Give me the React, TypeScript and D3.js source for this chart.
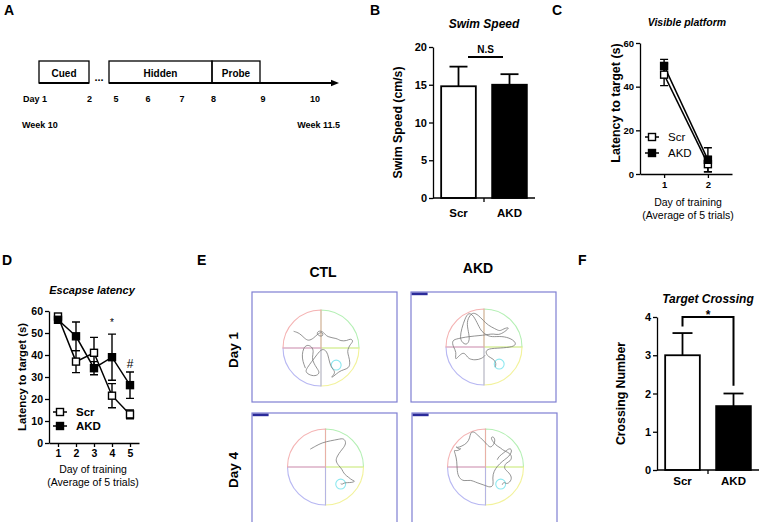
import React, { useRef, useEffect } from 'react';
import * as d3 from 'd3';

const FONT = "'Liberation Sans', Arial, sans-serif";

// A: protocol timeline
const phases = ['Cued', 'Hidden', 'Probe'];
const timelineDays = ['Day 1', '2', '5', '6', '7', '8', '9', '10'];
const weeks = ['Week 10', 'Week 11.5'];

// B: swim speed
const groups = ['Scr', 'AKD'];
const swimMean = [14.8, 15.0];
const swimSem = [2.6, 1.4];
const swimTicks = [0, 5, 10, 15, 20];

// C: visible platform
const visDays = [1, 2];
const visScr = [45.5, 4.5];
const visScrSem = [5, 3.5];
const visAkd = [49.5, 6.5];
const visAkdSem = [3, 5.5];
const visTicks = [0, 20, 40, 60];

// D: escape latency
const escDays = [1, 2, 3, 4, 5];
const escScr = [57.5, 37, 41, 21.5, 13];
const escScrSem = [1.2, 5, 7, 5.5, 2];
const escAkd = [56, 48.5, 34, 39, 26.3];
const escAkdSem = [1, 6.5, 3, 10.5, 6];
const escTicks = [0, 10, 20, 30, 40, 50, 60];
const escSigDays = [4, 5];
const escSigText = ['*', '#'];

// E: swim tracks, pool units (-100..100, y up)
const trackCols = ['CTL', 'AKD'];
const trackRows = ['Day 1', 'Day 4'];
const platform = [40, -45];
const platformR = 13;
const trackCtlDay1 = [
  [-72, 44], [-56, 39], [-44, 26], [-33, 18], [-19, 26], [-11, 35], [3, 44], [7, 31], [-6, 31], [-12, 40],
  [-4, 46], [7, 42], [16, 28], [42, 26], [51, 18], [69, 19], [77, 25], [86, 19], [77, 9], [73, 2],
  [69, -9], [73, -22], [77, -40], [73, -53], [60, -57], [47, -62], [33, -75], [25, -79], [38, -66], [33, -57],
  [25, -48], [20, -26], [16, -9], [3, 0], [-11, -18], [-24, -35], [-37, -53], [-41, -62], [-33, -70], [-15, -75],
  [-2, -66], [-11, -53], [-19, -40], [-24, -26], [-19, -9], [-24, 4], [-37, 9], [-46, 0], [-50, -18], [-48, -35], [-41, -53],
];
const trackAkdDay1 = [
  [29, -53], [33, -44], [25, -31], [11, -26], [3, -13], [11, -4], [42, -3], [77, 0], [86, 9], [73, 22],
  [47, 29], [20, 26], [7, 31], [-6, 40], [-15, 57], [-28, 84], [-41, 91], [-50, 75], [-59, 48], [-63, 26],
  [-59, 13], [-46, 4], [-37, 18], [-41, 40], [-46, 66], [-37, 84], [-28, 91], [-15, 84], [-2, 70], [11, 57],
  [29, 48], [42, 41], [51, 48], [69, 53], [55, 40], [38, 31], [25, 35], [11, 33], [-2, 31], [-24, 29],
  [-50, 26], [-68, 22], [-85, 18], [-81, 0], [-72, -13], [-77, -35], [-68, -26], [-55, -13], [-46, -22], [-41, -31],
  [-24, -35], [-6, -31], [3, -22],
];
const trackCtlDay4 = [
  [-40, 47], [-26, 55], [-9, 64], [13, 69], [35, 73], [48, 76], [55, 64], [48, 51], [40, 42], [31, 29],
  [26, 16], [35, 3], [44, -6], [48, -18], [62, -28], [70, -35], [79, -37], [70, -41], [57, -41], [48, -42],
  [44, -46], [40, -44],
];
const trackAkdDay4 = [
  [44, -47], [48, -38], [57, -47], [70, -33], [66, -20], [57, -11], [48, -3], [53, 11], [66, 15], [70, 28],
  [62, 37], [53, 41], [44, 46], [40, 50], [31, 55], [22, 63], [13, 77], [20, 81], [26, 72], [22, 59],
  [13, 50], [4, 59], [-4, 68], [-13, 77], [-22, 85], [-31, 94], [-40, 90], [-41, 77], [-48, 63], [-62, 55],
  [-75, 50], [-79, 55], [-70, 46], [-62, 50], [-75, 41], [-84, 46], [-79, 33], [-75, 15], [-75, -11], [-70, -29],
  [-57, -38], [-40, -33], [-22, -42], [-4, -47], [13, -55], [22, -47], [18, -29], [22, -11], [31, 2], [44, 15],
  [57, 24], [66, 33], [70, 46], [62, 50], [48, 37], [35, 28], [31, 19],
];
const tracks = [trackCtlDay1, trackAkdDay1, trackCtlDay4, trackAkdDay4];

// F: target crossing
const crossMean = [3.0, 1.67];
const crossSem = [0.58, 0.33];
const crossTicks = [0, 1, 2, 3, 4];

type Sel = d3.Selection<any, unknown, null, undefined>;

const text = (g: Sel, x: number, y: number, s: string, size: number, opts: any = {}) =>
  g.append('text')
    .attr('x', x)
    .attr('y', y)
    .attr('text-anchor', opts.anchor || 'middle')
    .attr('transform', opts.rotate ? `rotate(-90,${x},${y})` : null)
    .style('font-family', FONT)
    .style('font-size', `${size}px`)
    .style('font-weight', opts.weight || 'bold')
    .style('font-style', opts.italic ? 'italic' : 'normal')
    .style('fill', '#000')
    .text(s);

const styleAxis = (ax: Sel, size: number) => {
  ax.selectAll('path, line').attr('stroke', '#000').attr('stroke-width', 1.3);
  ax.selectAll('text')
    .style('font-family', FONT)
    .style('font-size', `${size}px`)
    .style('font-weight', 'bold')
    .attr('fill', '#000');
};

const App = () => {
  const svgRef = useRef<SVGSVGElement>(null);

  useEffect(() => {
    const svg = d3.select(svgRef.current);
    svg.selectAll('*').remove();

    // panel letters
    [['A', 4, 15], ['B', 370, 15], ['C', 552, 15], ['D', 2, 265], ['E', 197, 265], ['F', 578, 265]].forEach(([l, x, y]) =>
      text(svg, x as number, y as number, l as string, 14, { anchor: 'start' }));

    // ---------- A ----------
    const a = svg.append('g');
    const phaseX = [[39, 89], [109, 212], [212, 260]];
    phases.forEach((p, i) => {
      a.append('rect')
        .attr('x', phaseX[i][0]).attr('y', 61)
        .attr('width', phaseX[i][1] - phaseX[i][0]).attr('height', 22)
        .attr('fill', 'none').attr('stroke', '#000').attr('stroke-width', 1.3);
      text(a, (phaseX[i][0] + phaseX[i][1]) / 2, 76.5, p, 10);
    });
    a.append('line').attr('x1', 39).attr('x2', 89).attr('y1', 83).attr('y2', 83).attr('stroke', '#000').attr('stroke-width', 2);
    a.append('line').attr('x1', 109).attr('x2', 333).attr('y1', 83).attr('y2', 83).attr('stroke', '#000').attr('stroke-width', 2);
    a.append('path').attr('d', 'M331,79.8 L339,83 L331,86.2 Z').attr('fill', '#000');
    text(a, 99, 81, '...', 11);
    const dayX = [23, 89.5, 116, 148, 182, 213.5, 263, 315];
    timelineDays.forEach((d, i) => text(a, dayX[i], 102, d, 9, { anchor: i === 0 ? 'start' : 'middle' }));
    text(a, 22, 128, weeks[0], 9, { anchor: 'start' });
    text(a, 340, 128, weeks[1], 9, { anchor: 'end' });

    // ---------- bar panels (B, F) ----------
    const barPanel = (cfg: any) => {
      const g = svg.append('g');
      const x = d3.scaleBand().domain(groups).range([cfg.x0, cfg.x1]).paddingInner(0.32).paddingOuter(0.16);
      const y = d3.scaleLinear().domain([0, cfg.max]).range([cfg.y0, cfg.y1]);
      groups.forEach((k, i) => {
        const cx = x(k)! + x.bandwidth() / 2;
        g.append('line')
          .attr('x1', cx).attr('x2', cx)
          .attr('y1', y(cfg.mean[i])).attr('y2', y(cfg.mean[i] + cfg.sem[i]))
          .attr('stroke', '#000').attr('stroke-width', 1.8);
        g.append('line')
          .attr('x1', cx - cfg.cap).attr('x2', cx + cfg.cap)
          .attr('y1', y(cfg.mean[i] + cfg.sem[i])).attr('y2', y(cfg.mean[i] + cfg.sem[i]))
          .attr('stroke', '#000').attr('stroke-width', 1.8);
        g.append('rect')
          .attr('x', x(k)!).attr('y', y(cfg.mean[i]))
          .attr('width', x.bandwidth()).attr('height', cfg.y0 - y(cfg.mean[i]))
          .attr('fill', i === 0 ? '#fff' : '#000')
          .attr('stroke', '#000').attr('stroke-width', 1.8);
        text(g, cx, cfg.labelY, k, 11.5);
      });
      const ax = g.append('g').attr('transform', `translate(${cfg.x0},0)`)
        .call(d3.axisLeft(y).tickValues(cfg.ticks).tickFormat(d3.format('d')).tickSize(4).tickSizeOuter(0).tickPadding(2));
      styleAxis(ax, 11);
      g.append('line').attr('x1', cfg.x0).attr('x2', cfg.x1).attr('y1', cfg.y0).attr('y2', cfg.y0)
        .attr('stroke', '#000').attr('stroke-width', 1.5);
      const mid = (x(groups[0])! + x.bandwidth() + x(groups[1])!) / 2;
      g.append('line').attr('x1', mid).attr('x2', mid).attr('y1', cfg.y0).attr('y2', cfg.y0 + 4)
        .attr('stroke', '#000').attr('stroke-width', 1.3);
      text(g, (cfg.x0 + cfg.x1) / 2, cfg.titleY, cfg.title, 12, { italic: true });
      text(g, cfg.ylabX, (cfg.y0 + cfg.y1) / 2, cfg.ylab, 12.3, { rotate: true });
      return { g, x, y };
    };

    const b = barPanel({
      x0: 433, x1: 535, y0: 198, y1: 47, max: 20, ticks: swimTicks, mean: swimMean, sem: swimSem,
      cap: 9, labelY: 216.5, title: 'Swim Speed', titleY: 28, ylab: 'Swim Speed (cm/s)', ylabX: 401.5,
    });
    b.g.append('line').attr('x1', 468).attr('x2', 503).attr('y1', 57).attr('y2', 57)
      .attr('stroke', '#000').attr('stroke-width', 1.8);
    text(b.g, 485.5, 53, 'N.S', 10);

    const f = barPanel({
      x0: 657, x1: 759, y0: 470, y1: 317, max: 4, ticks: crossTicks, mean: crossMean, sem: crossSem,
      cap: 10, labelY: 485, title: 'Target Crossing', titleY: 303, ylab: 'Crossing Number', ylabX: 624.5,
    });
    const fl = f.x(groups[0])! + f.x.bandwidth() / 2;
    const fr = f.x(groups[1])! + f.x.bandwidth() / 2;
    f.g.append('path')
      .attr('d', `M${fl},${f.y(3.75)} V${f.y(4)} H${fr} V${f.y(2.2)}`)
      .attr('fill', 'none').attr('stroke', '#000').attr('stroke-width', 2);
    text(f.g, (fl + fr) / 2, 319, '*', 12);

    // ---------- line panels (C, D) ----------
    const linePanel = (cfg: any) => {
      const g = svg.append('g');
      const x = d3.scaleLinear().domain(cfg.xDomain).range([cfg.x0, cfg.x1]);
      const y = d3.scaleLinear().domain([0, cfg.max]).range([cfg.y0, cfg.y1]);
      const series = [
        { v: cfg.scr, e: cfg.scrSem, fill: '#fff' },
        { v: cfg.akd, e: cfg.akdSem, fill: '#000' },
      ];
      const line = d3.line<number>().x((_, i) => x(cfg.days[i])).y(d => y(d));
      series.forEach(s => {
        g.append('path').attr('d', line(s.v)!).attr('fill', 'none').attr('stroke', '#000').attr('stroke-width', 1.5);
      });
      series.forEach(s => {
        s.v.forEach((v: number, i: number) => {
          const cx = x(cfg.days[i]);
          g.append('path')
            .attr('d', `M${cx},${y(v - s.e[i])}V${y(v + s.e[i])}M${cx - cfg.cap},${y(v - s.e[i])}h${cfg.cap * 2}M${cx - cfg.cap},${y(v + s.e[i])}h${cfg.cap * 2}`)
            .attr('stroke', '#000').attr('stroke-width', 1.4).attr('fill', 'none');
        });
      });
      series.forEach(s => {
        s.v.forEach((v: number, i: number) => {
          g.append('rect')
            .attr('x', x(cfg.days[i]) - 3.5).attr('y', y(v) - 3.5)
            .attr('width', 7).attr('height', 7)
            .attr('fill', s.fill).attr('stroke', '#000').attr('stroke-width', 1.4);
        });
      });
      const ay = g.append('g').attr('transform', `translate(${cfg.x0},0)`)
        .call(d3.axisLeft(y).tickValues(cfg.ticks).tickSize(4).tickSizeOuter(0).tickPadding(2));
      styleAxis(ay, cfg.tickFont);
      const axx = g.append('g').attr('transform', `translate(0,${cfg.y0})`)
        .call(d3.axisBottom(x).tickValues(cfg.days).tickFormat(d3.format('d')).tickSize(4).tickSizeOuter(0).tickPadding(3));
      styleAxis(axx, cfg.tickFont);
      // legend
      series.forEach((s, i) => {
        const ly = cfg.legY + i * cfg.legStep;
        g.append('line').attr('x1', cfg.legX - 7).attr('x2', cfg.legX + 7).attr('y1', ly).attr('y2', ly)
          .attr('stroke', '#000').attr('stroke-width', 1.5);
        g.append('rect').attr('x', cfg.legX - 3.5).attr('y', ly - 3.5).attr('width', 7).attr('height', 7)
          .attr('fill', s.fill).attr('stroke', '#000').attr('stroke-width', 1.4);
        text(g, cfg.legX + 16, ly + 4, groups[i], 11.5, { anchor: 'start', weight: cfg.legWeight });
      });
      text(g, cfg.titleX, cfg.titleY, cfg.title, cfg.titleFont, { italic: true });
      text(g, cfg.xlabX, cfg.xlabY, 'Day of training', 10.5, { weight: 'normal' });
      text(g, cfg.xlabX, cfg.xlabY + 13, '(Average of 5 trials)', 10.5, { weight: 'normal' });
      text(g, cfg.ylabX, cfg.ylabY, 'Latency to target (s)', cfg.ylabFont, { rotate: true });
      return { g, x, y };
    };

    linePanel({
      x0: 640, x1: 732, y0: 174, y1: 43, max: 60, xDomain: [0.45, 2.55], days: visDays,
      scr: visScr, scrSem: visScrSem, akd: visAkd, akdSem: visAkdSem, ticks: visTicks, cap: 4, tickFont: 9.5,
      legX: 652, legY: 137, legStep: 16, legWeight: 'normal', titleFont: 10.5, ylabFont: 12.5,
      title: 'Visible platform', titleX: 687, titleY: 26, xlabX: 688, xlabY: 206, ylabX: 619.5, ylabY: 103,
    });

    const d = linePanel({
      x0: 49, x1: 139, y0: 443, y1: 311, max: 60, xDomain: [0.5, 5.5], days: escDays,
      scr: escScr, scrSem: escScrSem, akd: escAkd, akdSem: escAkdSem, ticks: escTicks, cap: 4, tickFont: 10.5,
      legX: 60, legY: 412, legStep: 14, legWeight: 'bold', titleFont: 11, ylabFont: 11.3,
      title: 'Escapse latency', titleX: 92, titleY: 294, xlabX: 93, xlabY: 473, ylabX: 26, ylabY: 377,
    });
    escSigDays.forEach((day, i) => {
      const idx = escDays.indexOf(day);
      const top = d.y(escAkd[idx] + escAkdSem[idx]);
      text(d.g, d.x(day), top - (i === 0 ? 8 : 4), escSigText[i], i === 0 ? 10 : 12, { weight: 'normal' });
    });

    // ---------- E ----------
    const e = svg.append('g');
    const colX = [323, 478];
    const colY = [277, 273];
    trackCols.forEach((c, i) => text(e, colX[i], colY[i], c, 14));
    const rowY = [350, 470];
    trackRows.forEach((r, i) => text(e, 238, rowY[i], r, 13.5, { rotate: true }));

    const boxes = [
      { x: 252, y: 292, cx: 321, cy: 348, flag: false },
      { x: 411, y: 292, cx: 484, cy: 347, flag: true },
      { x: 252, y: 413, cx: 325.5, cy: 467, flag: true },
      { x: 412, y: 413, cx: 485.5, cy: 467, flag: true },
    ];
    const quadColors = ['#a6eca6', '#f0f08a', '#aaaaf0', '#f2a5a5'];
    const r = 38;
    boxes.forEach((bx, i) => {
      const g = e.append('g');
      g.append('rect').attr('x', bx.x).attr('y', bx.y).attr('width', 145).attr('height', i < 2 ? 110 : 120)
        .attr('fill', '#fff').attr('stroke', '#7f7fd2').attr('stroke-width', 1.2);
      if (bx.flag) {
        g.append('rect').attr('x', bx.x + 0.6).attr('y', bx.y + 0.6).attr('width', 16).attr('height', 2.6).attr('fill', '#2b2b9a');
      }
      const px = d3.scaleLinear().domain([-100, 100]).range([bx.cx - r, bx.cx + r]);
      const py = d3.scaleLinear().domain([-100, 100]).range([bx.cy + r, bx.cy - r]);
      const arc = d3.arc<any>().innerRadius(0).outerRadius(r);
      quadColors.forEach((col, q) => {
        g.append('path')
          .attr('transform', `translate(${bx.cx},${bx.cy})`)
          .attr('d', arc({ startAngle: (q * Math.PI) / 2, endAngle: ((q + 1) * Math.PI) / 2 })!)
          .attr('fill', 'none').attr('stroke', col).attr('stroke-width', 1.1).attr('stroke-opacity', 0.85);
      });
      g.append('circle').attr('cx', px(platform[0])).attr('cy', py(platform[1])).attr('r', px(platformR) - px(0))
        .attr('fill', 'none').attr('stroke', '#8ee8f0').attr('stroke-width', 1.1);
      const tl = d3.line<number[]>().x(p => px(p[0])).y(p => py(p[1])).curve(d3.curveBasis);
      g.append('path').attr('d', tl(tracks[i])!).attr('fill', 'none').attr('stroke', '#777').attr('stroke-width', 0.8);
    });
  }, []);

  return (
    <svg ref={svgRef} width={760} height={522}
      style={{ position: 'absolute', left: 0, top: 0, background: '#fff' }} />
  );
};

export default App;
